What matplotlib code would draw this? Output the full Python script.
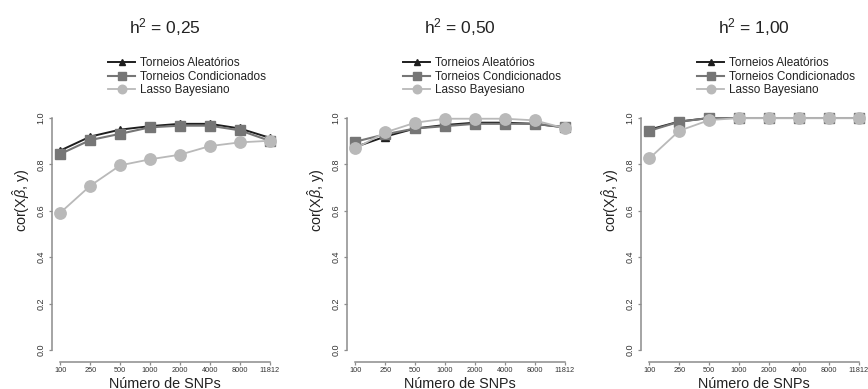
import matplotlib
matplotlib.use("Agg")
import matplotlib.pyplot as plt

plt.rcParams['font.family'] = ['Liberation Sans', 'DejaVu Sans']
plt.rcParams['mathtext.fontset'] = 'custom'
plt.rcParams['mathtext.rm'] = 'Liberation Sans'
plt.rcParams['mathtext.it'] = 'Liberation Sans:italic'
plt.rcParams['mathtext.bf'] = 'Liberation Sans:bold'

# number of SNPs used in each fit
snps = ['100', '250', '500', '1000', '2000', '4000', '8000', '11812']
titles = ['h$^{2}$ = 0,25', 'h$^{2}$ = 0,50', 'h$^{2}$ = 1,00']

# correlation between predicted and observed values, one list per heritability
torneios_aleatorios = [
    [0.86, 0.92, 0.95, 0.965, 0.975, 0.975, 0.955, 0.915],
    [0.875, 0.92, 0.955, 0.97, 0.98, 0.98, 0.975, 0.96],
    [0.95, 0.985, 1.0, 1.0, 1.0, 1.0, 1.0, 1.0],
]
torneios_condicionados = [
    [0.845, 0.905, 0.932, 0.96, 0.967, 0.967, 0.947, 0.902],
    [0.898, 0.93, 0.955, 0.965, 0.975, 0.975, 0.975, 0.96],
    [0.945, 0.984, 1.0, 1.0, 1.0, 1.0, 1.0, 1.0],
]
lasso_bayesiano = [
    [0.592, 0.708, 0.796, 0.822, 0.842, 0.879, 0.895, 0.902],
    [0.869, 0.938, 0.98, 0.997, 0.997, 0.997, 0.99, 0.956],
    [0.826, 0.945, 0.991, 1.0, 1.0, 1.0, 1.0, 1.0],
]
yticks = [0.0, 0.2, 0.4, 0.6, 0.8, 1.0]

W, H = 868, 389
fig = plt.figure(figsize=(W / 100, H / 100), dpi=100)

axis_col = '#8c8c8c'
lefts = [52, 347, 641]
x = list(range(1, len(snps) + 1))

for i in range(3):
    ax = fig.add_axes([lefts[i] / W, 1 - 362 / H, 226 / W, 324 / H])

    ax.plot(x, torneios_aleatorios[i], '-^', color='#1e1e1e', lw=1.4, ms=5.5,
            label='Torneios Aleatórios')
    ax.plot(x, torneios_condicionados[i], '-s', color='#767676', lw=1.5, ms=7.2,
            label='Torneios Condicionados')
    ax.plot(x, lasso_bayesiano[i], '-o', color='#b9b9b9', lw=1.3, ms=8.2,
            label='Lasso Bayesiano')

    ax.set_xlim(0.72, 8.28)
    ax.set_ylim(-0.0517, 1.345)

    # R-style detached axes
    for s in ['top', 'right']:
        ax.spines[s].set_visible(False)
    ax.spines['left'].set_bounds(0, 1)
    ax.spines['bottom'].set_bounds(1, 8)
    for s in ['left', 'bottom']:
        ax.spines[s].set_color(axis_col)
        ax.spines[s].set_linewidth(1.1)

    ax.set_xticks(x)
    ax.set_xticklabels(snps, fontsize=5.3, color='#333333')
    ax.set_yticks(yticks)
    ax.set_yticklabels(['%.1f' % v for v in yticks], fontsize=6.5,
                       color='#333333', rotation=90, va='center')
    ax.tick_params(axis='both', direction='out', length=2.4, width=0.9,
                   color=axis_col)
    ax.tick_params(axis='x', pad=1.5)
    ax.tick_params(axis='y', pad=2.5)

    ax.set_xlabel('Número de SNPs', fontsize=10.4, color='#222222', labelpad=1.5)
    ax.set_ylabel(r'cor(X$\hat{\beta}$, y)', fontsize=10.4, color='#222222',
                  labelpad=3)
    ax.set_title(titles[i], fontsize=12.5, color='#222222', pad=3)

    leg = ax.legend(loc='upper left', bbox_to_anchor=(56 / 226, 1 - 19.5 / 324),
                    frameon=False, fontsize=8.5, handlelength=2.3,
                    handletextpad=0.45, borderpad=0, borderaxespad=0,
                    labelspacing=0.12, markerscale=0.75)
    for t in leg.get_texts():
        t.set_color('#222222')

fig.savefig('out.png', dpi=100)
